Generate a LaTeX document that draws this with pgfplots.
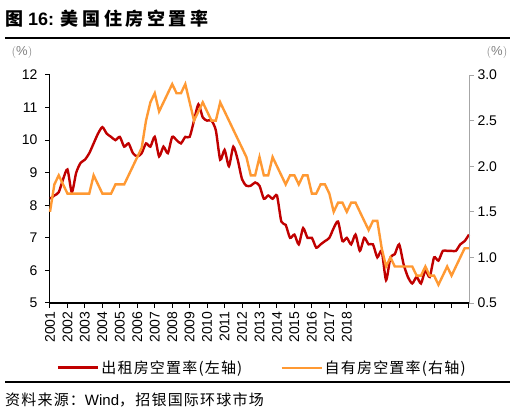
\documentclass[border=0pt]{standalone}
\usepackage{fontspec}
\setmainfont{Liberation Sans}
\newfontfamily\cjk{Noto Sans CJK SC}
\newfontfamily\cjkt{Noto Sans CJK SC}[LetterSpace=20]
\newfontfamily\cjks{Noto Sans CJK SC}[LetterSpace=8]
\usepackage{pgfplots}
\usepackage{pgfplotstable}
\pgfplotsset{compat=1.18}

\definecolor{rentred}{HTML}{C00000}
\definecolor{ownorange}{HTML}{FF9933}
\definecolor{axgray}{HTML}{A6A6A6}

% quarterly, 2001Q1 - 2025Q1: rental vacancy (left), homeowner vacancy (right)
\pgfplotstableread{
t       rent  own
2001.00 8.2   1.5
2001.25 8.3   1.8
2001.50 8.4   1.9
2001.75 8.8   1.8
2002.00 9.1   1.7
2002.25 8.4   1.7
2002.50 9.0   1.7
2002.75 9.3   1.7
2003.00 9.4   1.7
2003.25 9.6   1.7
2003.50 9.9   1.9
2003.75 10.2  1.8
2004.00 10.4  1.7
2004.25 10.2  1.7
2004.50 10.1  1.7
2004.75 10.0  1.8
2005.00 10.1  1.8
2005.25 9.8   1.8
2005.50 9.9   1.9
2005.75 9.6   2.0
2006.00 9.5   2.1
2006.25 9.6   2.2
2006.50 9.9   2.5
2006.75 9.8   2.7
2007.00 10.1  2.8
2007.25 9.5   2.6
2007.50 9.8   2.7
2007.75 9.6   2.8
2008.00 10.1  2.9
2008.25 10.0  2.8
2008.50 9.9   2.8
2008.75 10.1  2.9
2009.00 10.1  2.7
2009.25 10.6  2.5
2009.50 11.1  2.6
2009.75 10.7  2.7
2010.00 10.6  2.6
2010.25 10.6  2.5
2010.50 10.3  2.5
2010.75 9.4   2.7
2011.00 9.7   2.6
2011.25 9.2   2.5
2011.50 9.8   2.4
2011.75 9.4   2.3
2012.00 8.8   2.2
2012.25 8.6   2.1
2012.50 8.6   1.9
2012.75 8.7   1.9
2013.00 8.6   2.1
2013.25 8.2   1.9
2013.50 8.3   1.9
2013.75 8.2   2.1
2014.00 8.3   2.0
2014.25 7.5   1.9
2014.50 7.4   1.8
2014.75 7.0   1.9
2015.00 7.1   1.9
2015.25 6.8   1.8
2015.50 7.3   1.9
2015.75 7.0   1.9
2016.00 7.0   1.7
2016.25 6.7   1.7
2016.50 6.8   1.8
2016.75 6.9   1.8
2017.00 7.0   1.7
2017.25 7.3   1.5
2017.50 7.5   1.6
2017.75 6.9   1.6
2018.00 7.0   1.5
2018.25 6.8   1.6
2018.50 7.1   1.6
2018.75 6.6   1.5
2019.00 7.0   1.4
2019.25 6.8   1.3
2019.50 6.8   1.4
2019.75 6.4   1.4
2020.00 6.6   1.1
2020.25 5.7   0.9
2020.50 6.4   1.0
2020.75 6.5   0.9
2021.00 6.8   0.9
2021.25 6.2   0.9
2021.50 5.8   0.9
2021.75 5.6   0.9
2022.00 5.8   0.8
2022.25 5.6   0.8
2022.50 6.0   0.9
2022.75 5.8   0.8
2023.00 6.4   0.8
2023.25 6.3   0.7
2023.50 6.6   0.8
2023.75 6.6   0.9
2024.00 6.6   0.8
2024.25 6.6   0.9
2024.50 6.8   1.0
2024.75 6.9   1.1
2025.00 7.1   1.1
}\vacancy

\pgfplotsset{
  tickfont/.style={font=\fontsize{14}{14}\selectfont},
}

\begin{document}
\begin{tikzpicture}
\path[use as bounding box] (0pt,0pt) rectangle (515pt,415pt);

% title and rules
\node[anchor=west, inner sep=0pt] at (5pt,396pt)
  {\fontsize{18}{18}\selectfont\bfseries{\cjkt 图} 16: {\cjkt 美国住房空置率}};
\draw[line width=2.5pt] (5pt,377pt) -- (510pt,377pt);
\node[text=gray, inner sep=0pt] at (22pt,363pt) {\fontsize{13}{13}\selectfont$(\%)$};
\node[text=gray, inner sep=0pt] at (497pt,363pt) {\fontsize{13}{13}\selectfont$(\%)$};

% left axis: rental vacancy
\begin{axis}[
  at={(50pt,112pt)}, anchor=south west,
  scale only axis, width=419pt, height=228pt,
  xmin=2001, xmax=2025, ymin=5, ymax=12,
  axis x line*=bottom, axis y line*=left,
  axis line style={-},
  x axis line style={line width=1.5pt},
  y axis line style={line width=1pt},
  tick align=outside, major tick length=5pt,
  tick style={black, line width=1pt},
  xtick={2001,...,2025},
  xticklabels={2001,2002,2003,2004,2005,2006,2007,2008,2009,2010,2011,2012,2013,2014,2015,2016,2017,2018,,,,,,,},
  xticklabel style={rotate=90, anchor=east, tickfont},
  ytick={5,6,...,12},
  yticklabel style={tickfont, xshift=-4pt},
  /pgf/number format/assume math mode=true,
  clip=false,
]
\addplot[rentred, line width=2.4pt, smooth, tension=0.4] table[x=t, y=rent] {\vacancy};
\end{axis}

% right axis: homeowner vacancy
\begin{axis}[
  at={(50pt,112pt)}, anchor=south west,
  scale only axis, width=419pt, height=228pt,
  xmin=2001, xmax=2025, ymin=0.5, ymax=3,
  axis x line=none, axis y line*=right,
  axis line style={-, axgray, line width=0.8pt},
  tick align=outside, major tick length=5pt,
  ytick style={axgray, line width=0.8pt},
  ytick={0.5,1.0,1.5,2.0,2.5,3.0},
  yticklabel style={tickfont, /pgf/number format/fixed, /pgf/number format/fixed zerofill, /pgf/number format/precision=1},
  /pgf/number format/assume math mode=true,
  clip=false,
  legend columns=2,
  legend style={at={(0.506,-0.285)}, anchor=center, draw=none, fill=none,
    font=\cjks\fontsize{15}{15}\selectfont,
    /tikz/every even column/.append style={column sep=36pt}},
  legend image code/.code={\draw[#1] (0pt,0pt) -- (40pt,0pt);},
]
\addlegendimage{rentred, line width=3pt}
\addlegendentry{出租房空置率(左轴)}
\addplot[ownorange, line width=2.4pt] table[x=t, y=own] {\vacancy};
\addlegendentry{自有房空置率(右轴)}
\end{axis}

\draw[line width=2.5pt] (5pt,33pt) -- (510pt,33pt);
\node[anchor=west, inner sep=0pt] at (5pt,15pt)
  {\fontsize{15}{15}\selectfont{\cjks 资料来源：}Wind{\cjks ，招银国际环球市场}};
\end{tikzpicture}
\end{document}
